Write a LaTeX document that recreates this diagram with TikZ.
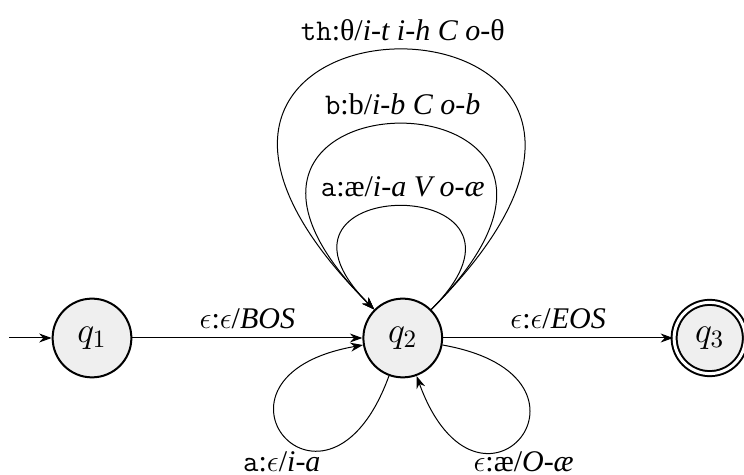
\documentclass[tikz,border=0pt]{standalone}
\usepackage{fontspec}
\setmainfont{Liberation Serif}
\usepackage{tikz}
\usetikzlibrary{arrows.meta,positioning}
\definecolor{stfill}{HTML}{EFEFEF}

\begin{document}
\begin{tikzpicture}[
 >={Stealth[length=5pt,width=3.6pt]}, font=\large,
 state/.style={circle,draw,thick,fill=stfill,minimum size=31.5pt,inner sep=0pt,font=\Large},
 accept/.style={state,double,double distance=1.2pt,minimum size=28.5pt},
 botlbl/.style={anchor=base,inner sep=0pt,yshift=-8.4pt}
]
\useasboundingbox (-36.8pt,-54.8pt) rectangle (260.8pt,135.2pt);
\node[state] (q1) at (0,0) {$q_1$};
\node[state,right=92pt of q1] (q2) {$q_2$};
\node[accept,right=92pt of q2] (q3) {$q_3$};
\coordinate[left=17pt of q1.west] (init);
\draw[->] (init) -- (q1);
\draw[->] (q1) -- node[above] {$\epsilon$:$\epsilon$/\textit{BOS}} (q2);
\draw[->] (q2) -- node[above] {$\epsilon$:$\epsilon$/\textit{EOS}} (q3);
% loops above q2
\draw[->] (q2.45) .. controls +(45:78pt) and +(135:78pt) .. node[above] {\texttt{a}:æ/\textit{i-a V o-æ}} (q2.135);
\draw[->] (q2.45) .. controls +(45:140pt) and +(135:140pt) .. node[above] {\texttt{b}:b/\textit{i-b C o-b}} (q2.135);
\draw[->] (q2.45) .. controls +(45:196pt) and +(135:196pt) .. node[above] {\texttt{th}:θ/\textit{i-t i-h C o-}θ} (q2.135);
% loops below q2
\draw[->] (q2.250) .. controls +(250:73pt) and +(190:73pt) .. node[pos=0.3,botlbl,xshift=-16pt] {\texttt{a}:$\epsilon$/\textit{i-a}} (q2.190);
\draw[->] (q2.350) .. controls +(350:73pt) and +(290:73pt) .. node[pos=0.7,botlbl,xshift=16pt] {$\epsilon$:æ/\textit{O-æ}} (q2.290);
\end{tikzpicture}
\end{document}
